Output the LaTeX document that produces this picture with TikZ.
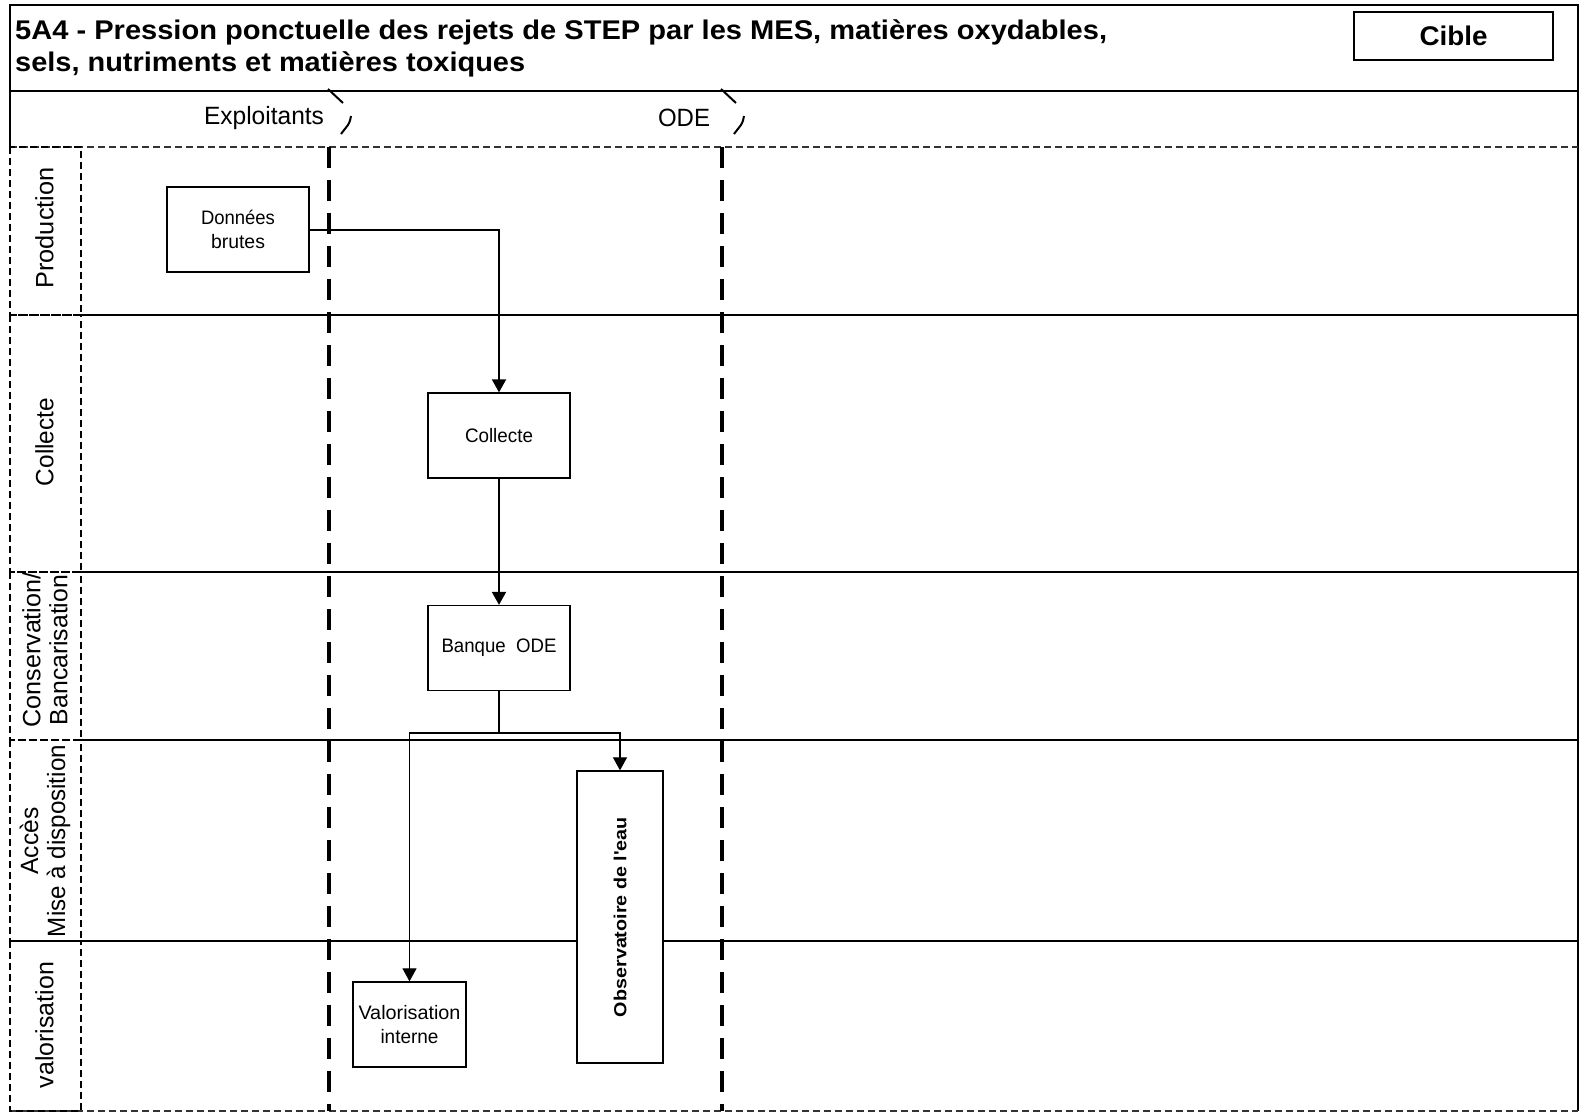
\documentclass[tikz,border=0pt]{standalone}
\usepackage{fontspec}
\setmainfont{Liberation Sans}
\usetikzlibrary{arrows.meta}
\newcommand{\tw}[2]{\resizebox{#1}{\height}{#2}}
\tikzset{
  box/.style={draw, fill=white, line width=1.3pt, inner sep=0pt},
  flow/.style={line width=2pt, -{Triangle[length=13pt,width=14pt]}},
  flowthin/.style={line width=1.2pt, -{Triangle[length=13pt,width=14pt]}},
  lane/.style={line width=2.2pt},
  sepline/.style={line width=3.2pt, dash pattern=on 21pt off 12pt},
  labcol/.style={line width=1.4pt, dash pattern=on 7pt off 4pt},
  lanelab/.style={rotate=90, inner sep=0pt, align=center, font=\fontsize{25}{27}\selectfont},
  boxtxt/.style={inner sep=0pt, align=center, font=\fontsize{19.5}{23.5}\selectfont},
  hdrmark/.style={line width=2pt, line cap=butt}
}
\begin{document}
\begin{tikzpicture}[x=1pt,y=-1pt]
\useasboundingbox (0,0) rectangle (1580,1112);
\fill[white] (0,0) rectangle (1580,1112);
% outer frame
\draw[line width=1.5pt] (10,147) -- (10,5) -- (1578,5) -- (1578,1111);
\draw[line width=1.2pt] (10,91) -- (1578,91);
\draw[line width=1.4pt, dash pattern=on 7pt off 4pt, draw=black!80] (10,147) -- (1578,147);
\draw[line width=1.4pt, dash pattern=on 7pt off 4pt, draw=black!80] (10,1111) -- (1578,1111);
% left label column
\foreach \ya/\yb in {147/315, 315/572, 572/740, 740/941, 941/1111}{
  \draw[labcol] (10,\ya) rectangle (81,\yb);
}
% lane separators
\foreach \yy in {315,572,740,941}{
  \draw[lane] (81,\yy) -- (1578,\yy);
}
% vertical dashed separators
\draw[sepline] (329,147) -- (329,1111);
\draw[sepline] (722,147) -- (722,1111);
% header marks
\draw[hdrmark] (328,89) -- (343,103);
\draw[hdrmark, rounded corners=3pt] (351,116) -- (349.5,123) -- (341,134);
\draw[hdrmark] (721,89) -- (736,103);
\draw[hdrmark, rounded corners=3pt] (744,116) -- (742.5,123) -- (734,134);
% title
\node[anchor=base west, inner sep=0pt, font=\fontsize{27}{30}\bfseries] (t1) at (15,39.5) {\tw{1092pt}{5A4 - Pression ponctuelle des rejets de STEP par les MES, matières oxydables,}};
\node[anchor=base west, inner sep=0pt, font=\fontsize{27}{30}\bfseries] (t2) at (15,71.7) {\tw{510pt}{sels, nutriments et matières toxiques}};
\node[draw, line width=1.2pt, minimum width=199pt, minimum height=48pt, inner sep=0pt] (cible) at (1453.5,36) {\fontsize{27}{30}\bfseries\selectfont\tw{68pt}{Cible}};
% lane headers
\node[inner sep=0pt, font=\fontsize{25}{27}\selectfont] (hexp) at (264,118) {\tw{120pt}{Exploitants}};
\node[inner sep=0pt, font=\fontsize{25}{27}\selectfont] (hode) at (684,118) {\tw{52pt}{ODE}};
% row labels
\node[lanelab] (lprod) at (44.5,228) {\tw{121pt}{Production}};
\node[lanelab] (lcoll) at (44.5,442) {\tw{88pt}{Collecte}};
\node[lanelab] (lcons) at (45,650) {\tw{155pt}{Conservation/}\\\tw{150pt}{Bancarisation}};
\node[lanelab] (lacc) at (45,841) {\tw{67pt}{Accès}\\\tw{192pt}{Mise à disposition}};
\node[lanelab] (lval) at (44.5,1025) {\tw{126pt}{valorisation}};
% boxes
\node[box, minimum width=142pt, minimum height=85pt] (d) at (238,229.5) {};
\node[boxtxt] (dt) at (d.center) {\tw{74pt}{Données}\\\tw{54pt}{brutes}};
\node[box, minimum width=142pt, minimum height=85pt] (c) at (499,435.5) {};
\node[boxtxt] (ct) at (c.center) {\tw{68pt}{Collecte}};
\node[box, minimum width=142pt, minimum height=85pt] (b) at (499,648) {};
\node[boxtxt] (bt) at (b.center) {\tw{115pt}{Banque\ \ ODE}};
\node[box, minimum width=86pt, minimum height=292pt] (o) at (620,917) {};
\node[inner sep=0pt, rotate=90, font=\fontsize{17.5}{20}\bfseries] (ot) at (o.center) {\tw{200pt}{Observatoire de l\textquotesingle eau}};
\node[box, minimum width=113pt, minimum height=85pt] (v) at (409.5,1024.5) {};
\node[boxtxt] (vt) at (v.center) {\tw{102pt}{Valorisation}\\\tw{58pt}{interne}};
% connectors
\draw[flow] (d.east) -| (c.north);
\draw[flow] (c.south) -- (b.north);
\coordinate (j) at (499,733);
\draw[line width=1.6pt] (b.south) -- (j);
\draw[flowthin] (j) -| (v.north);
\draw[flowthin] (j) -| (o.north);
\end{tikzpicture}
\end{document}
